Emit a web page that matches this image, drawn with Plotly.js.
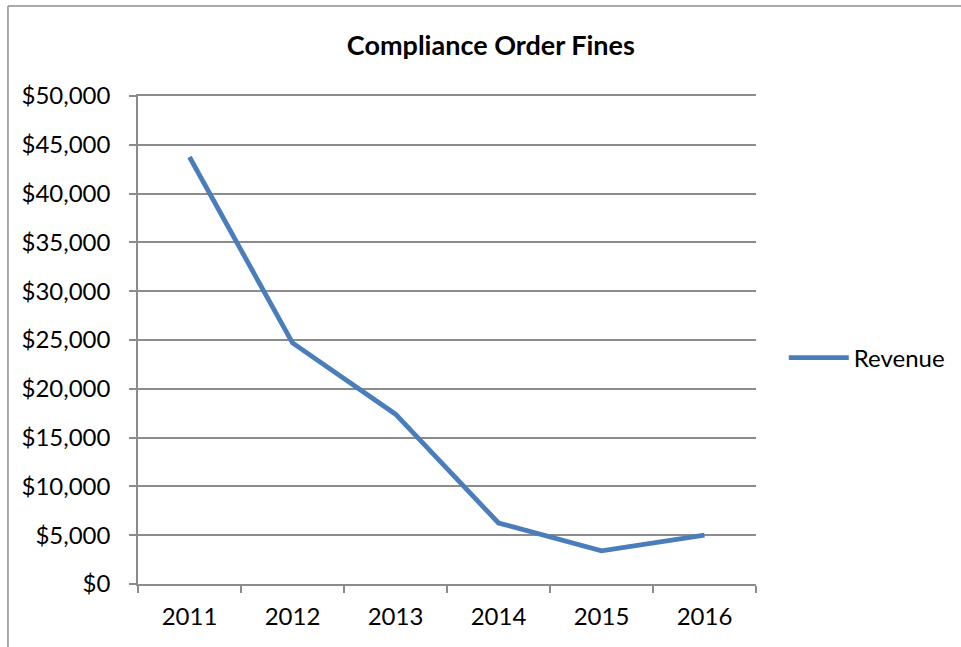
<!DOCTYPE html>
<html>
<head>
<meta charset="utf-8">
<script src="https://cdn.plot.ly/plotly-3.0.1.min.js"></script>
<style>
  html, body { margin: 0; padding: 0; background: #ffffff; }
  #chart { width: 961px; height: 647px; }
</style>
</head>
<body>
<div id="chart"></div>
<script>
const years = ["2011", "2012", "2013", "2014", "2015", "2016"];
const revenue = [43750, 24700, 17400, 6250, 3400, 5000];
const yTicks = [0, 5000, 10000, 15000, 20000, 25000, 30000, 35000, 40000, 45000, 50000];
const yTickLabels = ["$0", "$5,000", "$10,000", "$15,000", "$20,000", "$25,000", "$30,000", "$35,000", "$40,000", "$45,000", "$50,000"];
const seriesName = "Revenue";
const chartTitle = "Compliance Order Fines";

const font = "Lato, 'Open Sans', 'Liberation Sans', sans-serif";
const gridColor = "#8c8c8c";

const trace = {
  x: years,
  y: revenue,
  type: "scatter",
  mode: "lines",
  name: seriesName,
  line: { color: "#4a7ebb", width: 4.8 },
  hoverinfo: "x+y"
};

const layout = {
  width: 961,
  height: 647,
  margin: { l: 138, r: 205, t: 96, b: 63, pad: 0, autoexpand: false },
  paper_bgcolor: "#ffffff",
  plot_bgcolor: "#ffffff",
  font: { family: font, size: 24, color: "#000000" },
  title: {
    text: "<b>" + chartTitle + "</b>",
    font: { family: font, size: 27, color: "#000000" },
    xref: "paper", x: 0.571, xanchor: "center",
    yref: "container", y: 0.929, yanchor: "middle"
  },
  xaxis: {
    type: "category",
    range: [-0.5, 5.5],
    tickson: "boundaries",
    ticks: "outside",
    ticklen: 7,
    tickwidth: 1.5,
    tickcolor: gridColor,
    showline: true,
    mirror: true,
    linecolor: gridColor,
    linewidth: 1.5,
    showgrid: false,
    zeroline: false,
    tickfont: { family: font, size: 24, color: "#000000" },
    ticklabelstandoff: 10,
    automargin: false,
    fixedrange: true
  },
  yaxis: {
    range: [0, 50000],
    tickvals: yTicks,
    ticktext: yTickLabels,
    ticks: "outside",
    ticklen: 7,
    tickwidth: 1.5,
    tickcolor: gridColor,
    showline: true,
    linecolor: gridColor,
    linewidth: 1.5,
    showgrid: true,
    gridcolor: gridColor,
    gridwidth: 1.5,
    zeroline: false,
    tickfont: { family: font, size: 24, color: "#000000" },
    ticklabelstandoff: 14,
    automargin: false,
    fixedrange: true
  },
  showlegend: true,
  legend: {
    x: 1.045, xanchor: "left",
    y: 0.463, yanchor: "middle",
    font: { family: font, size: 24, color: "#000000" },
    bgcolor: "rgba(0,0,0,0)",
    itemwidth: 60
  },
  shapes: [
    { type: "line", xref: "paper", yref: "paper", x0: -0.2104, x1: -0.2104, y0: 1.1844, y1: -0.14,
      line: { color: "#8c8c8c", width: 1.5 } },
    { type: "line", xref: "paper", yref: "paper", x0: -0.2104, x1: 1.34, y0: 1.1844, y1: 1.1844,
      line: { color: "#8c8c8c", width: 1.5 } }
  ]
};

Plotly.newPlot("chart", [trace], layout, { displayModeBar: false, staticPlot: false });
</script>
</body>
</html>
